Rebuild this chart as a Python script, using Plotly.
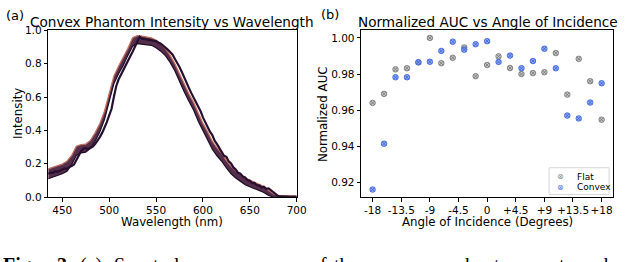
import plotly.graph_objects as go

# ---------------- data ----------------
# (a) spectrum: centre line (2.5 nm grid) and band edges (5 nm grid)
wl_fine = [435 + 2.5 * i for i in range(107)]
intensity_mid = [
    0.140, 0.147, 0.146, 0.155, 0.152, 0.161, 0.165, 0.172, 0.170, 0.181,
    0.186, 0.196, 0.222, 0.250, 0.275, 0.290, 0.293, 0.288, 0.295, 0.303,
    0.318, 0.336, 0.360, 0.385, 0.416, 0.450, 0.490, 0.528, 0.600, 0.665,
    0.705, 0.735, 0.765, 0.790, 0.815, 0.845, 0.872, 0.905, 0.930, 0.962,
    0.950, 0.948, 0.946, 0.941, 0.940, 0.936, 0.935, 0.927, 0.920, 0.908,
    0.898, 0.884, 0.870, 0.855, 0.830, 0.808, 0.780, 0.750, 0.715, 0.685,
    0.655, 0.625, 0.598, 0.572, 0.545, 0.515, 0.478, 0.448, 0.420, 0.392,
    0.372, 0.338, 0.318, 0.292, 0.275, 0.248, 0.242, 0.214, 0.202, 0.178,
    0.166, 0.146, 0.140, 0.124, 0.118, 0.102, 0.098, 0.084, 0.085, 0.070,
    0.070, 0.058, 0.062, 0.050, 0.052, 0.040, 0.030, 0.016, 0.008, 0.004,
    0.003, 0.004, 0.002, 0.003, 0.002, 0.003, 0.002,
]
wl_band = [435 + 5 * i for i in range(54)]
intensity_upper = [
    0.170, 0.180, 0.186, 0.198, 0.215, 0.250, 0.305, 0.315, 0.318, 0.340,
    0.385, 0.440, 0.515, 0.625, 0.725, 0.785, 0.835, 0.892, 0.955, 0.968,
    0.965, 0.960, 0.955, 0.940, 0.918, 0.890, 0.850, 0.800, 0.738, 0.678,
    0.620, 0.568, 0.500, 0.442, 0.392, 0.335, 0.295, 0.262, 0.220, 0.184,
    0.158, 0.136, 0.115, 0.102, 0.088, 0.078, 0.064, 0.040, 0.020, 0.010,
    0.008, 0.008, 0.007, 0.006,
]
intensity_lower = [
    0.110, 0.120, 0.128, 0.140, 0.155, 0.195, 0.250, 0.265, 0.270, 0.292,
    0.335, 0.390, 0.465, 0.570, 0.680, 0.740, 0.790, 0.850, 0.905, 0.920,
    0.918, 0.915, 0.910, 0.895, 0.875, 0.848, 0.808, 0.758, 0.692, 0.632,
    0.575, 0.522, 0.455, 0.398, 0.345, 0.288, 0.248, 0.215, 0.175, 0.140,
    0.115, 0.094, 0.075, 0.062, 0.050, 0.040, 0.028, 0.010, 0.002, 0.000,
    0.000, 0.000, 0.000, 0.000,
]

# (b) normalized AUC vs angle
angles = [-18, -16.2, -14.4, -12.6, -10.8, -9, -7.2, -5.4, -3.6, -1.8, 0,
          1.8, 3.6, 5.4, 7.2, 9, 10.8, 12.6, 14.4, 16.2, 18]
auc_flat = [0.964, 0.969, 0.9826, 0.9832, 0.9865, 1.000, 0.986, 0.989, 0.9947,
            0.9788, 0.985, 0.9898, 0.9833, 0.980, 0.9805, 0.981, 0.9916,
            0.9686, 0.9884, 0.976, 0.9547]
auc_convex = [0.916, 0.9414, 0.9782, 0.9782, 0.9865, 0.9868, 0.9928, 0.9979,
              0.9935, 0.9965, 0.9982, 0.9867, 0.9902, 0.9832, 0.9872, 0.994,
              0.9832, 0.957, 0.9554, 0.9642, 0.9749]
series_names = ["Flat", "Convex"]
angle_ticks = [-18, -13.5, -9, -4.5, 0, 4.5, 9, 13.5, 18]
angle_tick_labels = ["-18", "-13.5", "-9", "-4.5", "0", "+4.5", "+9", "+13.5", "+18"]
wl_ticks = [450, 500, 550, 600, 650, 700]
int_ticks = [0.0, 0.2, 0.4, 0.6, 0.8, 1.0]
auc_ticks = [0.92, 0.94, 0.96, 0.98, 1.00]

# ---------------- layout helpers ----------------
W, H = 628, 262
def px(x):
    return x / W
def py(y):
    return 1 - y / H

FONT = "DejaVu Sans"
top, bot = 25.5, 200.3
FLAT_FILL, FLAT_EDGE = "rgba(175,175,175,0.7)", "#777777"
CONV_FILL, CONV_EDGE = "rgba(120,150,240,0.8)", "#3a62dc"

fig = go.Figure()

# band fill
fig.add_trace(go.Scatter(x=wl_band, y=intensity_lower, mode="lines",
                         line=dict(color="#1d0d25", width=1.2), showlegend=False,
                         xaxis="x", yaxis="y", hoverinfo="skip"))
fig.add_trace(go.Scatter(x=wl_band, y=intensity_upper, mode="lines",
                         line=dict(color="#c2705e", width=1.3), fill="tonexty",
                         fillcolor="rgba(70,28,60,0.92)", showlegend=False,
                         xaxis="x", yaxis="y", hoverinfo="skip"))
fig.add_trace(go.Scatter(x=wl_fine, y=intensity_mid, mode="lines",
                         line=dict(color="#26102e", width=2.2), showlegend=False,
                         xaxis="x", yaxis="y", hoverinfo="skip"))

# scatter
fig.add_trace(go.Scatter(x=angles, y=auc_flat, mode="markers", name=series_names[0],
                         marker=dict(symbol="circle-x", size=5.5, color=FLAT_FILL,
                                     line=dict(color=FLAT_EDGE, width=0.9)),
                         xaxis="x2", yaxis="y2", showlegend=False))
fig.add_trace(go.Scatter(x=angles, y=auc_convex, mode="markers", name=series_names[1],
                         marker=dict(symbol="circle-x", size=5.5, color=CONV_FILL,
                                     line=dict(color=CONV_EDGE, width=0.9)),
                         xaxis="x2", yaxis="y2", showlegend=False))

axis_common = dict(showline=True, linecolor="black", linewidth=1, mirror=True,
                   ticks="outside", ticklen=3.5, tickwidth=0.8, tickcolor="black",
                   showgrid=False, zeroline=False, tickangle=0,
                   tickfont=dict(family=FONT, size=10.5, color="black"))

fig.update_layout(
    width=W, height=H, margin=dict(l=0, r=0, t=0, b=0, pad=0),
    paper_bgcolor="white", plot_bgcolor="white", showlegend=False,
    xaxis=dict(domain=[px(49), px(301.5)], range=[435, 700], tickvals=wl_ticks,
               anchor="y", **axis_common),
    yaxis=dict(domain=[py(bot), py(top)], range=[0, 1], tickvals=int_ticks,
               tickformat=".1f", anchor="x", **axis_common),
    xaxis2=dict(domain=[px(367), px(623)], range=[-19.8, 19.8],
                tickvals=angle_ticks, ticktext=angle_tick_labels, anchor="y2",
                **axis_common),
    yaxis2=dict(domain=[py(bot), py(top)], range=[0.9118, 1.0042],
                tickvals=auc_ticks, tickformat=".2f", anchor="x2", **axis_common),
)

ann = []
def text(t, x, y, size, xanchor="center", yanchor="middle", angle=0,
         family=FONT, color="black"):
    ann.append(dict(text=t, x=px(x), y=py(y), xref="paper", yref="paper",
                    xanchor=xanchor, yanchor=yanchor, showarrow=False,
                    textangle=angle, font=dict(family=family, size=size, color=color)))

text("(a)", 4, 10, 13, xanchor="left")
text("(b)", 324, 9, 13, xanchor="left")
text("Convex Phantom Intensity vs Wavelength", 175, 16.5, 13.6)
text("Normalized AUC vs Angle of Incidence", 496, 16.5, 13.6)
text("Wavelength (nm)", 175, 226.5, 11.8)
text("Angle of Incidence (Degrees)", 495, 226.5, 11.8)
text("Intensity", 18.5, 113, 11.8, angle=-90)
text("Normalized AUC", 328.5, 113, 11.8, angle=-90)

# legend (matplotlib-style box, lower right of panel b)
shapes = [dict(type="rect", xref="paper", yref="paper",
               x0=px(558), x1=px(619), y0=py(197.5), y1=py(169.5),
               line=dict(color="#d6d6d6", width=1), fillcolor="rgba(255,255,255,0.85)",
               layer="above")]
text("⊗", 569.5, 179, 8, color="#8a8a8a")
text("⊗", 569.5, 190, 8, color="#4a70e0")
text(series_names[0], 584, 179, 9, xanchor="left")
text(series_names[1], 584, 190, 9, xanchor="left")

# caption (cut off at bottom of image)
cap_words = [("<b>Fig.</b>", 1), ("<b>3</b>", 56), ("(a)", 79), ("Spectral", 114),
             ("responses", 205), ("of", 313), ("the", 337), ("convex", 370),
             ("phantom", 460), ("at", 557), ("each", 584)]
for w, x in cap_words:
    text(w, x, 271.5, 20, xanchor="left", family="Liberation Serif")

fig.update_layout(annotations=ann, shapes=shapes)
fig.write_html("out.html", config={"displayModeBar": False},
               post_script="document.body.style.margin='0';document.body.style.overflow='hidden';")
